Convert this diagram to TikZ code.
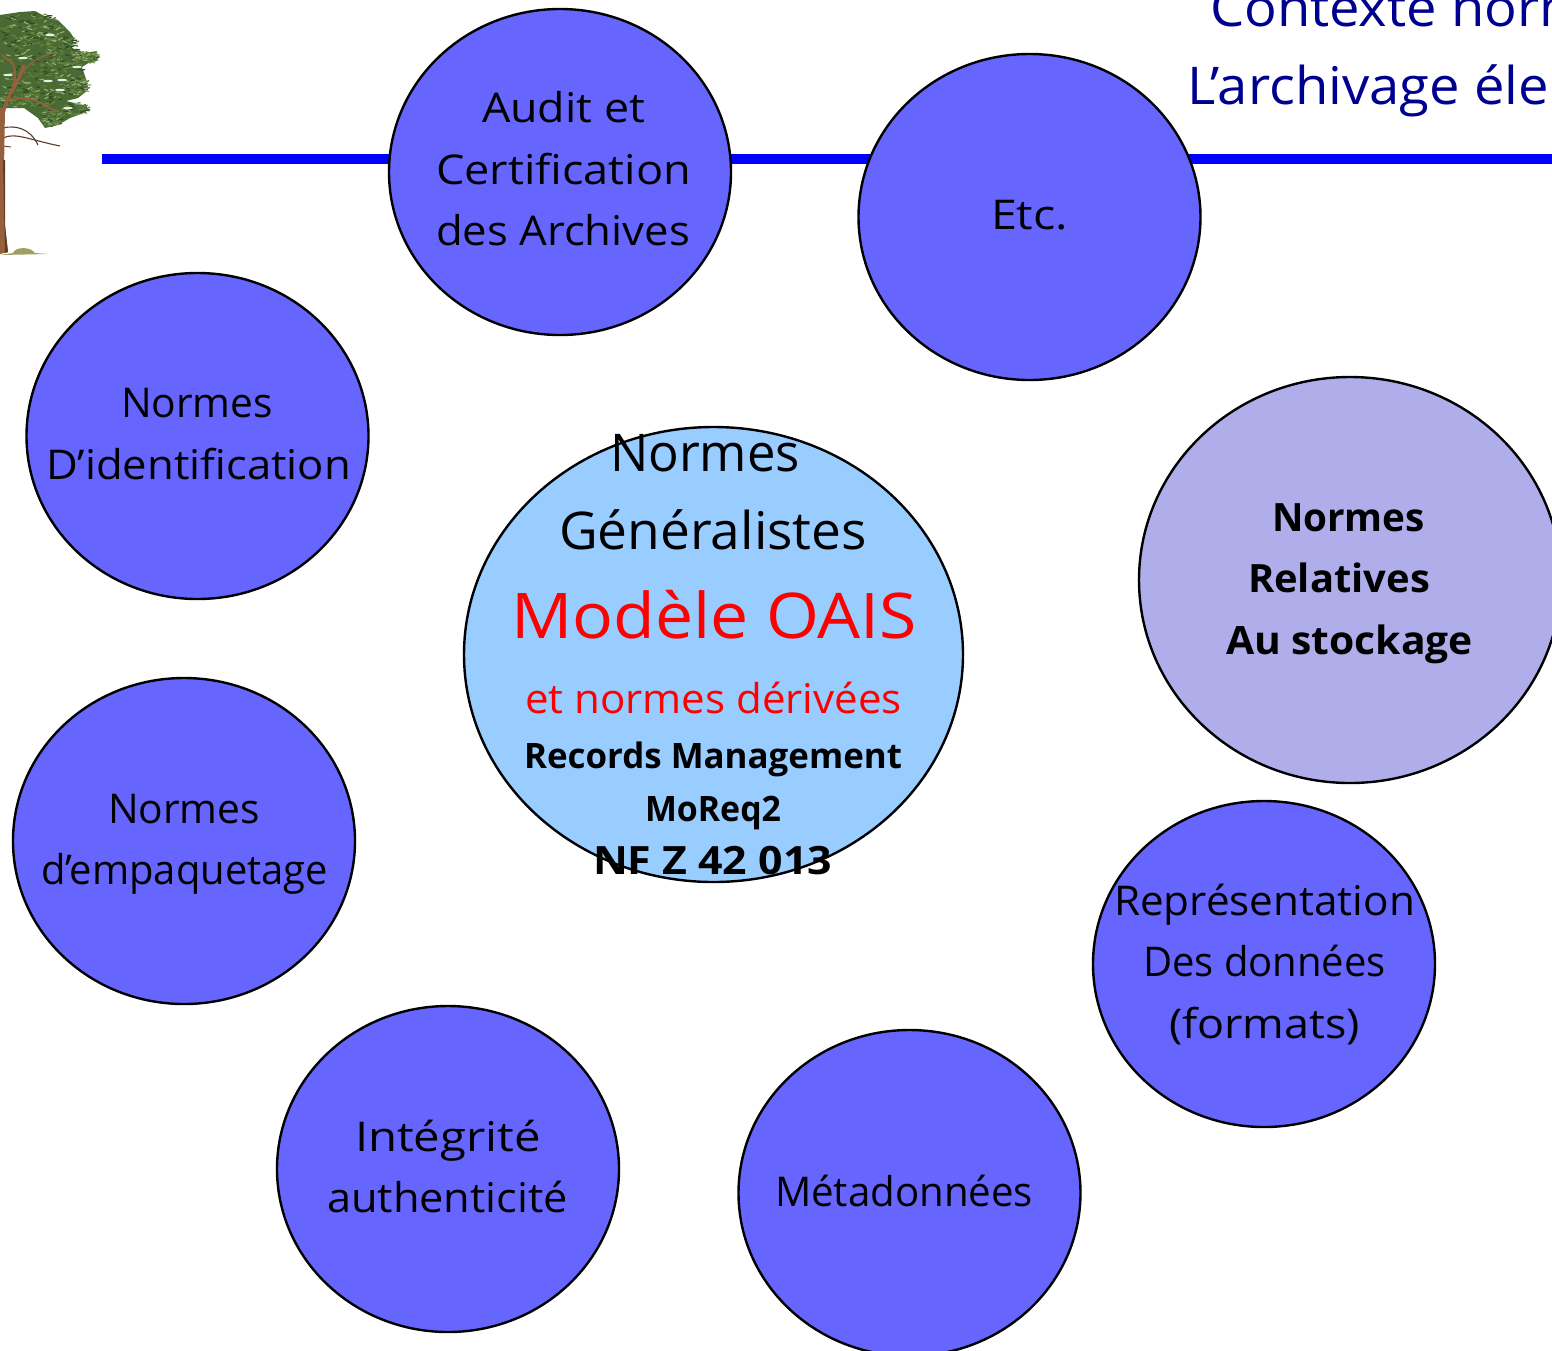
\documentclass[tikz,border=0pt]{standalone}
\usepackage{fontspec}
\usepackage{graphicx}
\setmainfont{Open Sans}
\usetikzlibrary{shapes.geometric}
\definecolor{circblue}{HTML}{6666FF}
\definecolor{circlav}{HTML}{AFAEEB}
\definecolor{circsky}{HTML}{99CCFF}
\definecolor{titleblue}{HTML}{000090}
\definecolor{rulered}{HTML}{FF0000}
\definecolor{leafa}{HTML}{4A6A34}
\definecolor{leafb}{HTML}{64853F}
\definecolor{leafc}{HTML}{93AC72}
\definecolor{leafd}{HTML}{2F4A24}
\definecolor{barkc}{HTML}{96603C}
\definecolor{barkd}{HTML}{5E3C26}
\newsavebox\lblbox
\newcommand\fitto[2]{\sbox\lblbox{#2}\pgfmathsetmacro\lblr{#1/\the\wd\lblbox}\scalebox{\lblr}[1]{\usebox\lblbox}}
\tikzset{
  x=1pt,y=-1pt,
  disc/.style={ellipse,draw=black,line width=2.4pt,inner sep=0pt,minimum width=#1},
  bluedisc/.style={disc=342pt,minimum height=326pt,fill=circblue},
  lbl/.style={anchor=base,inner sep=0pt,outer sep=0pt,text=black,font=\fontsize{41}{41}\selectfont},
  lblb/.style={lbl,font=\fontsize{39}{39}\selectfont\bfseries},
  lblbs/.style={lbl,font=\fontsize{35}{35}\selectfont\bfseries},
  lblbig/.style={lbl,font=\fontsize{52}{52}\selectfont},
  ttl/.style={lbl,anchor=base west,text=titleblue,font=\fontsize{52}{52}\selectfont},
  rubanbar/.style={line width=10pt,draw=blue}
}
\begin{document}
\begin{tikzpicture}
\useasboundingbox (0,0) rectangle (1552,1350);
\begin{scope}
\clip (0,0) rectangle (1552,1350);
\fill[white] (0,0) rectangle (1552,1350);

% tree: silhouette, then many short needle strokes
\fill[leafa] (0,15) -- (20,12) -- (35,11) -- (48,18) -- (58,20) -- (70,32) -- (74,38) -- (72,48)
  -- (85,53) -- (97,51) -- (93,60) -- (82,67) -- (87,82) -- (88,90) -- (78,98) -- (66,101)
  -- (87,106) -- (86,112) -- (70,118) -- (58,125) -- (45,128) -- (38,118) -- (24,108) -- (0,108) -- cycle;
\pgfmathsetseed{11}
\foreach \cx/\cy/\rx/\ry in {20/30/24/17,42/28/20/14,60/48/16/16,84/57/13/6,58/72/24/13,74/86/13/9,74/109/13/6,50/118/11/8,24/62/26/24,14/95/16/12,40/96/22/12}{
  \foreach \k in {1,...,70}{
    \pgfmathsetmacro\aa{rnd*360}
    \pgfmathsetmacro\rr{sqrt(rnd)}
    \pgfmathsetmacro\px{\cx+\rx*\rr*cos(\aa)}
    \pgfmathsetmacro\py{\cy+\ry*\rr*sin(\aa)}
    \pgfmathsetmacro\qx{\px+2+rnd*2.5}
    \pgfmathsetmacro\qy{\py-2+rnd*4}
    \pgfmathtruncatemacro\cc{int(rnd*5)}
    \ifcase\cc\def\dabc{leafb}\or\def\dabc{leafc}\or\def\dabc{leafd}\or\def\dabc{leafb}\or\def\dabc{leafa}\fi
    \draw[\dabc,line width=1.2pt,line cap=round] (\px,\py) -- (\qx,\qy);
  }
}
\foreach \wx/\wy in {23/58,48/81,62/80,77/67,60/90,68/108,50/35,8/75}{
  \fill[white!80!leafc] (\wx,\wy) ellipse [x radius=5,y radius=1.2];
}
\draw[barkd,line width=1.1pt] (3,128) .. controls (15,125) and (30,128) .. (38,145);
\draw[barkd,line width=1.1pt] (3,138) .. controls (15,132) and (30,140) .. (60,146);
\draw[barkd,line width=0.9pt] (3,146) -- (11,147);
\draw[barkc,line width=3.5pt] (2,118) .. controls (6,95) and (18,85) .. (24,65);
\draw[barkc,line width=1.8pt] (9,100) .. controls (25,95) and (40,100) .. (55,112);
\draw[barkc,line width=1.8pt] (13,88) .. controls (20,60) and (8,62) .. (2,55);
\draw[barkc,line width=1.2pt] (20,75) .. controls (30,62) and (42,55) .. (55,53);
\fill[barkc] (0,108) -- (5,108) -- (4,170) -- (5,225) -- (8,252) -- (0,254) -- cycle;
\fill[barkd] (3,160) -- (5,160) -- (5,225) -- (8,252) -- (5,253) -- cycle;
\fill[leafc!70!brown] (13,253) .. controls (15,247) and (30,246) .. (35,253) -- (48,254) -- (0,255) -- cycle;

% rule
\coordinate (barL) at (102,159);
\coordinate (barR) at (1552,159);
\draw[rubanbar] (barL) -- (barR);

% title
\node[ttl] (title1) at (1210,26) {\fitto{380}{Contexte norm}};
\node[ttl] (title2) at (1187,104) {\fitto{362}{L’archivage éle}};

% discs
\node[bluedisc] (audit) at (560,172) {};
\node[bluedisc] (etc) at (1029.5,217) {};
\node[bluedisc] (ident) at (197.5,436) {};
\node[bluedisc] (empaq) at (184,841) {};
\node[bluedisc] (integ) at (448,1169) {};
\node[bluedisc] (meta) at (909.5,1193) {};
\node[bluedisc] (repr) at (1264,964) {};
\node[disc=422pt,minimum height=406pt,fill=circlav] (stock) at (1350,580) {};
\node[disc=499pt,minimum height=455pt,fill=circsky] (gen) at (713.5,654.5) {};

% labels
\node[lbl] (t1) at (563.5,122) {\fitto{163}{Audit et}};
\node[lbl] (t2) at (563.5,184) {\fitto{255}{Certification}};
\node[lbl] (t3) at (563,245) {\fitto{254}{des Archives}};
\node[lbl] (t4) at (1029.5,229) {\fitto{77}{Etc.}};
\node[lbl] (t5) at (197,417) {\fitto{152}{Normes}};
\node[lbl] (t6) at (198.5,479) {\fitto{305}{D’identification}};
\node[lbl] (t7) at (184,823) {\fitto{152}{Normes}};
\node[lbl] (t8) at (184.5,884) {\fitto{287}{d’empaquetage}};
\node[lbl] (t9) at (448,1151) {\fitto{186}{Intégrité}};
\node[lbl] (t10) at (447.5,1212) {\fitto{241}{authenticité}};
\node[lbl] (t11) at (904,1206) {\fitto{258}{Métadonnées}};
\node[lbl] (t12) at (1264.5,915) {\fitto{301}{Représentation}};
\node[lbl] (t13) at (1264.5,976) {\fitto{243}{Des données}};
\node[lbl] (t14) at (1264.5,1038) {\fitto{191}{(formats)}};
\node[lblb] (t15) at (1348.5,531) {\fitto{153}{Normes}};
\node[lblb] (t16) at (1339,592) {\fitto{182}{Relatives}};
\node[lblb] (t17) at (1349.5,654) {\fitto{247}{Au stockage}};
\node[lblbig] (t18) at (705,471) {\fitto{190}{Normes}};
\node[lblbig] (t19) at (713,549) {\fitto{308}{Généralistes}};
\node[lbl,text=rulered,font=\fontsize{63}{63}\selectfont] (t20) at (714,638) {\fitto{406}{Modèle OAIS}};
\node[lbl,text=rulered] (t21) at (713.5,713) {\fitto{377}{et normes dérivées}};
\node[lblbs] (t22) at (713,768) {\fitto{378}{Records Management}};
\node[lblbs] (t23) at (713,821) {\fitto{136}{MoReq2}};
\node[lblb] (t24) at (712.5,874) {\fitto{239}{NF Z 42 013}};
\end{scope}
\end{tikzpicture}
\end{document}
